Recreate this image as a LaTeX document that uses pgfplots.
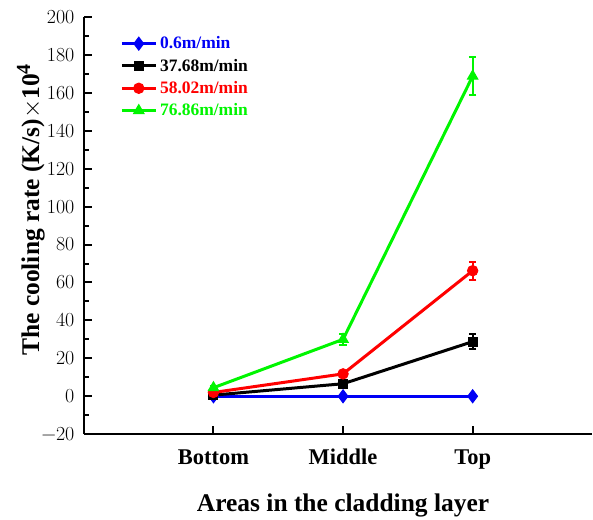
\documentclass[border=0pt]{standalone}
\usepackage{pgfplots}
\pgfplotsset{compat=1.18}
\usepackage{fontspec}
\setmainfont{Liberation Serif}
\newfontfamily\lmr{Latin Modern Roman}
\definecolor{bgreen}{RGB}{0,245,0}
\definecolor{bblue}{RGB}{0,0,245}
\definecolor{bred}{RGB}{255,0,0}
\begin{document}
\begin{tikzpicture}
\begin{axis}[
  scale only axis,
  width=509pt, height=418pt,
  xmin=0, xmax=3.92,
  ymin=-20, ymax=200,
  axis x line*=bottom, axis y line*=left,
  axis line style={line width=2.2pt,-},
  xtick={1,2,3}, xticklabels={Bottom,Middle,Top},
  ytick={-20,0,...,200},
  yticklabels={−20,0,20,40,60,80,100,120,140,160,180,200},
  minor y tick num=1,
  tick align=inside,
  major tick length=8pt, minor tick length=5pt,
  tick style={line width=2pt,black},
  x tick label style={font=\fontsize{22.5}{24}\selectfont\bfseries, anchor=base, yshift=-30pt},
  y tick label style={font=\fontsize{20}{22}\lmr, xshift=-6pt},
  xlabel={Areas in the cladding layer},
  ylabel={The cooling rate (K/s)$\times$10\textsuperscript{\fontsize{20}{20}\selectfont 4}},
  xlabel style={font=\fontsize{25.5}{28}\selectfont\bfseries, at={(axis cs:2,-20)}, anchor=base, yshift=-77pt},
  ylabel style={font=\fontsize{25.5}{28}\selectfont\bfseries, at={(axis description cs:0,0.5)}, anchor=center, xshift=16pt, yshift=53pt},
  legend style={draw=none, fill=none, at={(axis description cs:0.071,0.959)}, anchor=north west,
    font=\fontsize{17.5}{20}\selectfont\bfseries, row sep=3.5pt, inner sep=0pt,
    nodes={inner sep=2.6pt},
    /tikz/every even column/.append style={column sep=0pt}},
  legend cell align=left,
  legend image code/.code={\draw[mark repeat=2,mark phase=2,#1] plot coordinates {(0pt,0pt) (17pt,0pt) (34pt,0pt)};},
  error bars/error bar style={line width=2pt},
  error bars/error mark options={rotate=90, mark size=3.8pt, line width=2pt},
  clip=false,
]
\addplot[color=bblue, line width=3.4pt, mark=diamond*, mark size=6.5pt, mark options={line width=1pt}, error bars/.cd, y dir=both, y explicit]
  coordinates {(1,0) +- (0,0.5) (2,0) +- (0,0.5) (3,0) +- (0,0.5)};
\addlegendentry{\textcolor{bblue}{0.6m/min}}
\addplot[color=black, line width=3pt, mark=square*, mark size=4.5pt, mark options={line width=1pt}, error bars/.cd, y dir=both, y explicit]
  coordinates {(1,0.6) +- (0,0.5) (2,6.6) +- (0,1.0) (3,28.8) +- (0,3.8)};
\addlegendentry{\textcolor{black}{37.68m/min}}
\addplot[color=bred, line width=3pt, mark=*, mark size=5.2pt, mark options={line width=1pt}, error bars/.cd, y dir=both, y explicit]
  coordinates {(1,2.0) +- (0,0.5) (2,11.8) +- (0,1.0) (3,66.2) +- (0,4.8)};
\addlegendentry{\textcolor{bred}{58.02m/min}}
\addplot[color=bgreen, line width=3pt, mark=triangle*, mark size=6pt, mark options={line width=1pt}, error bars/.cd, y dir=both, y explicit]
  coordinates {(1,4.5) +- (0,0.8) (2,30.0) +- (0,2.8) (3,168.8) +- (0,10.2)};
\addlegendentry{\textcolor{bgreen}{76.86m/min}}
\path (rel axis cs:0,0) ++(-84pt,-84pt) rectangle ++(593pt,519pt);
\end{axis}
\end{tikzpicture}
\end{document}
